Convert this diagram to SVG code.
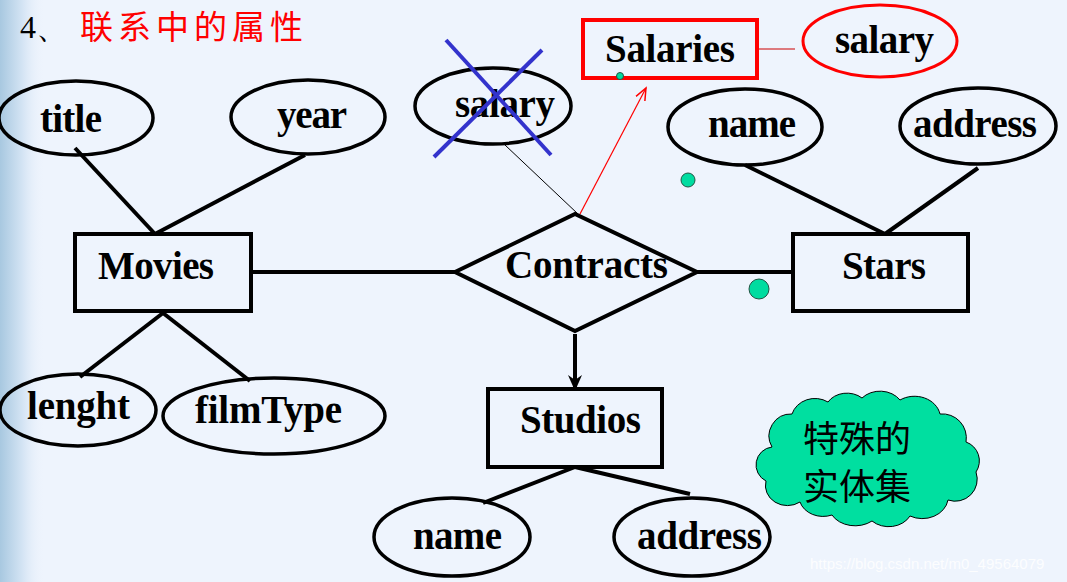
<svg xmlns="http://www.w3.org/2000/svg" width="1067" height="582" viewBox="0 0 1067 582">
<defs>
<linearGradient id="edge" x1="0" y1="0" x2="1" y2="0">
<stop offset="0" stop-color="#a8c8e0"/>
<stop offset="0.5" stop-color="#d4e4f4"/>
<stop offset="1" stop-color="#eef4fd" stop-opacity="0"/>
</linearGradient>
<marker id="arrBlack" markerWidth="16" markerHeight="16" refX="14" refY="8" orient="auto" markerUnits="userSpaceOnUse" viewBox="0 0 16 16">
<path d="M0,1 L16,8 L0,15 L5,8 Z" fill="#000"/>
</marker>
<marker id="arrRed" markerWidth="14" markerHeight="14" refX="12" refY="7" orient="auto" markerUnits="userSpaceOnUse" viewBox="0 0 14 14">
<path d="M0,2 L12,7 L0,12" fill="none" stroke="#f00" stroke-width="1.5"/>
</marker>
</defs>
<style>
.lbl{font-family:"Liberation Serif","Times New Roman",serif;font-weight:bold;font-size:39px;fill:#000}
.att{fill:none;stroke:#000;stroke-width:3.5}
.ent{fill:none;stroke:#000;stroke-width:4}
.ln{stroke:#000;stroke-width:4;fill:none}
.dot{fill:#00dca0;stroke:#225544;stroke-width:1}
.cjk{font-family:"Noto Sans CJK SC",sans-serif;font-size:36px;fill:#000}
</style>
<rect x="0" y="0" width="1067" height="582" fill="#eef4fd"/>
<rect x="0" y="0" width="45" height="582" fill="url(#edge)"/>

<g id="heading">
<text x="20" y="38" font-family="Liberation Serif, serif" font-size="32" fill="#000">4、</text>
<text x="80" y="39" font-family="Noto Sans CJK SC, sans-serif" font-size="33" fill="#f00" letter-spacing="5">联系中的属性</text>
</g>

<g id="connectors">
<line class="ln" x1="75" y1="148" x2="155" y2="234"/>
<line class="ln" x1="305" y1="155" x2="155" y2="234"/>
<line class="ln" x1="163" y1="313" x2="80" y2="377"/>
<line class="ln" x1="163" y1="313" x2="250" y2="381"/>
<line class="ln" x1="251" y1="272" x2="455" y2="272"/>
<line class="ln" x1="697" y1="272" x2="793" y2="272"/>
<line class="ln" x1="745" y1="165" x2="885" y2="234"/>
<line class="ln" x1="978" y1="168" x2="885" y2="234"/>
<line class="ln" x1="575" y1="334" x2="575" y2="389" marker-end="url(#arrBlack)"/>
<line class="ln" x1="575" y1="467" x2="483" y2="503"/>
<line class="ln" x1="575" y1="467" x2="690" y2="494"/>
<line x1="505" y1="145" x2="578" y2="214" stroke="#000" stroke-width="1"/>
<line x1="580" y1="214" x2="646" y2="88" stroke="#f00" stroke-width="1.2" marker-end="url(#arrRed)"/>
<line x1="757" y1="49" x2="795" y2="49" stroke="#c00" stroke-width="1"/>
</g>

<g id="title"><ellipse class="att" cx="76" cy="118" rx="77" ry="37"/><text class="lbl" x="40" y="132" textLength="62">title</text></g>
<g id="year"><ellipse class="att" cx="308" cy="117" rx="77" ry="37"/><text class="lbl" x="277" y="128" textLength="70">year</text></g>
<g id="movies"><rect class="ent" x="75" y="234" width="176" height="77"/><text class="lbl" x="98" y="279" textLength="116">Movies</text></g>
<g id="lenght"><ellipse class="att" cx="78" cy="410" rx="78" ry="36"/><text class="lbl" x="27" y="419" textLength="103">lenght</text></g>
<g id="filmType"><ellipse class="att" cx="274" cy="416" rx="111" ry="38"/><text class="lbl" x="195" y="423" textLength="147">filmType</text></g>

<g id="salary-old"><ellipse class="att" cx="493" cy="106" rx="78" ry="38"/><text class="lbl" x="455" y="117" textLength="100">salary</text>
<line x1="446" y1="40" x2="551" y2="155" stroke="#3333cc" stroke-width="4"/>
<line x1="542" y1="50" x2="434" y2="157" stroke="#3333cc" stroke-width="4"/></g>

<g id="salaries"><rect x="583" y="20" width="174" height="58" fill="none" stroke="#f00" stroke-width="4"/><text class="lbl" x="605" y="62" textLength="130">Salaries</text></g>
<g id="salary-new"><ellipse cx="880" cy="41" rx="77" ry="36" fill="none" stroke="#f00" stroke-width="3"/><text class="lbl" x="835" y="53" textLength="99">salary</text></g>

<g id="contracts"><polygon class="ent" points="455,272 575,214 697,272 575,331"/><text class="lbl" x="505" y="278" textLength="163">Contracts</text></g>

<g id="star-name"><ellipse class="att" cx="745" cy="127" rx="77" ry="38"/><text class="lbl" x="708" y="137" textLength="88">name</text></g>
<g id="star-address"><ellipse class="att" cx="978" cy="126" rx="78" ry="38"/><text class="lbl" x="913" y="137" textLength="124">address</text></g>
<g id="stars"><rect class="ent" x="793" y="234" width="175" height="77"/><text class="lbl" x="842" y="279" textLength="84">Stars</text></g>

<g id="studios"><rect class="ent" x="488" y="389" width="174" height="78"/><text class="lbl" x="520" y="433" textLength="121">Studios</text></g>
<g id="studio-name"><ellipse class="att" cx="452" cy="537" rx="78" ry="39"/><text class="lbl" x="413" y="549" textLength="89">name</text></g>
<g id="studio-address"><ellipse class="att" cx="692" cy="537" rx="78" ry="39"/><text class="lbl" x="637" y="549" textLength="125">address</text></g>

<g id="dots">
<circle class="dot" cx="620" cy="76" r="3.5"/>
<circle class="dot" cx="688" cy="180" r="7"/>
<circle class="dot" cx="759" cy="289" r="10"/>
</g>

<g id="cloud">
<path d="M772,447 A22,22 0 0 1 792,414 A24,22 0 0 1 828,402 A22,18 0 0 1 862,398 A24,20 0 0 1 900,400 A26,22 0 0 1 940,414 A24,24 0 0 1 966,442 A20,20 0 0 1 976,472 A22,22 0 0 1 948,500 A26,22 0 0 1 910,516 A24,20 0 0 1 872,521 A26,20 0 0 1 832,515 A24,20 0 0 1 800,502 A22,20 0 0 1 766,481 A18,18 0 0 1 772,447 Z" fill="#00dfa0" stroke="#000" stroke-width="1"/>
<text class="cjk" x="857" y="452" text-anchor="middle">特殊的</text>
<text class="cjk" x="857" y="500" text-anchor="middle">实体集</text>
</g>

<text x="810" y="569" font-family="Liberation Sans, Arial, sans-serif" font-size="15" fill="#ffffff" fill-opacity="0.85">https://blog.csdn.net/m0_49564079</text>
</svg>
